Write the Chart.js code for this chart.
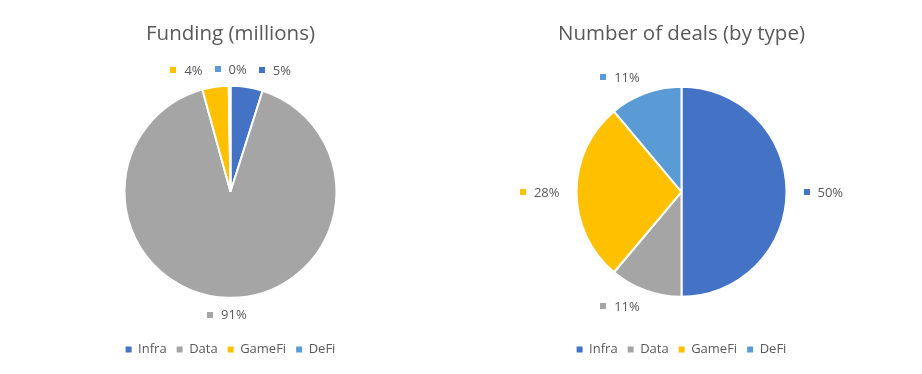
<!DOCTYPE html>
<html><head><meta charset="utf-8">
<script src="https://cdn.jsdelivr.net/npm/chart.js@4/dist/chart.umd.min.js"></script>
<style>
body{margin:0;background:#fff;width:922px;height:374px;overflow:hidden;position:relative}
.box{position:absolute;top:0;width:461px;height:374px}
</style></head><body>
<div class="box" style="left:0"><canvas id="c1" width="461" height="374"></canvas></div>
<div class="box" style="left:451px"><canvas id="c2" width="461" height="374"></canvas></div>
<script>
const categories = ['Infra', 'Data', 'GameFi', 'DeFi'];
const fundingMillions = [11, 204, 9, 0.6];
const dealCounts = [9, 2, 5, 2];
const sliceColors = ['#4472C4', '#A5A5A5', '#FFC000', '#5B9BD5'];
const chartTitles = ['Funding (millions)', 'Number of deals (by type)'];

const FONT = '"Open Sans", "DejaVu Sans", sans-serif';
const TEXT = '#595959';

const outsideLabels = {
  id: 'outsideLabels',
  afterDatasetsDraw(chart, args, opts) {
    const ctx = chart.ctx;
    const meta = chart.getDatasetMeta(0);
    const ds = chart.data.datasets[0];
    const data = ds.data;
    const total = data.reduce((a, b) => a + b, 0);
    ctx.save();
    ctx.font = '13px ' + FONT;
    const sq = 6, gap = 8, h = 16, minGap = 12;
    const boxes = meta.data.map((arc, i) => {
      const p = arc.getProps(['x', 'y', 'startAngle', 'endAngle', 'outerRadius'], true);
      const mid = (p.startAngle + p.endAngle) / 2;
      const d = p.outerRadius + opts.offset;
      const ax = p.x + Math.cos(mid) * d, ay = p.y + Math.sin(mid) * d;
      const text = Math.round(data[i] / total * 100) + '%';
      const w = sq + gap + ctx.measureText(text).width;
      const k = Math.max(-1, Math.min(1, Math.cos(mid) * 3));
      return { cx: ax + k * w / 2, cy: ay, w, text, color: ds.backgroundColor[i] };
    });
    for (let it = 0; it < 30; it++) {
      let moved = false;
      for (let i = 0; i < boxes.length; i++) for (let j = i + 1; j < boxes.length; j++) {
        const a = boxes[i], b = boxes[j];
        if (Math.abs(a.cy - b.cy) >= h) continue;
        const need = (a.w + b.w) / 2 + minGap;
        const dx = b.cx - a.cx;
        if (Math.abs(dx) < need) {
          const push = (need - Math.abs(dx)) / 2;
          const s = dx >= 0 ? 1 : -1;
          a.cx -= s * push; b.cx += s * push; moved = true;
        }
      }
      if (!moved) break;
    }
    ctx.textBaseline = 'middle';
    ctx.textAlign = 'left';
    boxes.forEach(b => {
      const x0 = b.cx - b.w / 2;
      ctx.fillStyle = b.color;
      ctx.fillRect(Math.round(x0), Math.round(b.cy - sq / 2), sq, sq);
      ctx.fillStyle = TEXT;
      ctx.fillText(b.text, x0 + sq + gap, b.cy + 1);
    });
    ctx.restore();
  }
};

function makePie(id, values, title, radius) {
  return new Chart(document.getElementById(id), {
    type: 'pie',
    data: {
      labels: categories,
      datasets: [{
        data: values,
        backgroundColor: sliceColors,
        borderColor: '#ffffff',
        borderWidth: 2,
        radius: radius
      }]
    },
    options: {
      responsive: false,
      animation: false,
      devicePixelRatio: 1,
      layout: { padding: { top: 0, bottom: 8, left: 0, right: 0 } },
      plugins: {
        title: {
          display: true, text: title, color: TEXT,
          font: { family: FONT, size: 20.5, weight: 'normal' },
          padding: { top: 22, bottom: 4 }
        },
        legend: {
          position: 'bottom',
          labels: {
            color: TEXT,
            font: { family: FONT, size: 13 },
            boxWidth: 6, boxHeight: 6, padding: 10,
            generateLabels(chart) {
              const items = Chart.overrides.pie.plugins.legend.labels.generateLabels(chart);
              items.forEach(it => { it.lineWidth = 0; it.strokeStyle = it.fillStyle; });
              return items;
            }
          }
        },
        tooltip: { enabled: false },
        outsideLabels: { offset: 17 }
      }
    },
    plugins: [outsideLabels]
  });
}

makePie('c1', fundingMillions, chartTitles[0], 106);
makePie('c2', dealCounts, chartTitles[1], 105);
</script>
</body></html>
